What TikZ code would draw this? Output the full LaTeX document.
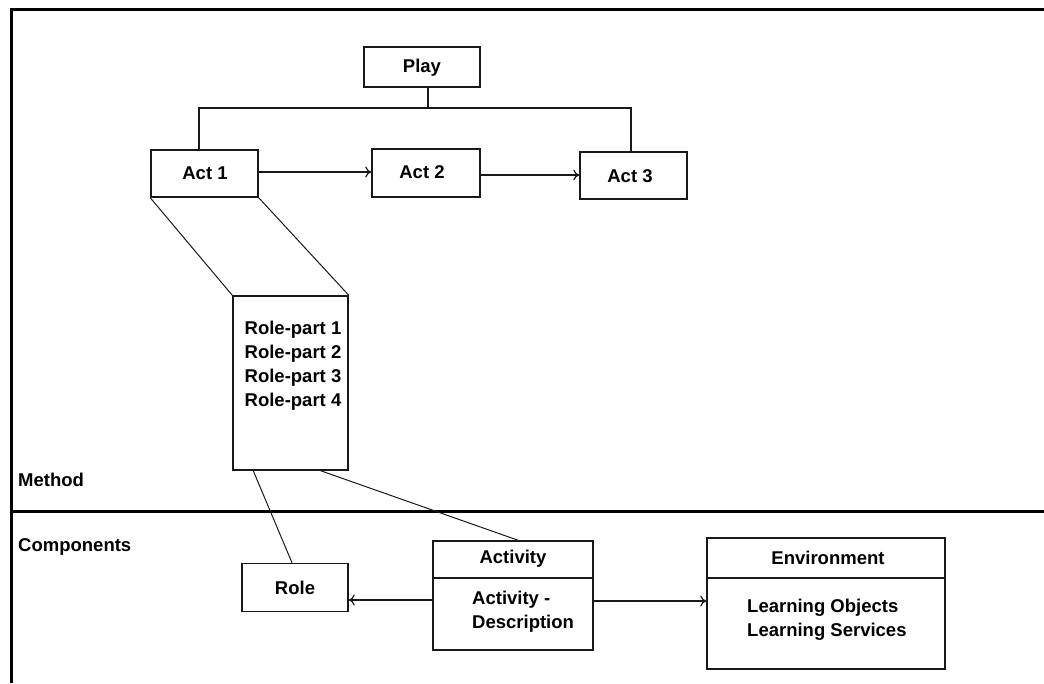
\documentclass[tikz,border=0pt]{standalone}
\usepackage{fontspec}
\setmainfont{Liberation Sans}
\usetikzlibrary{arrows.meta}
\begin{document}
\begin{tikzpicture}[x=1pt,y=-1pt,
  lbl/.style={font=\bfseries\fontsize{18.5}{24}\selectfont, inner sep=0pt},
  box/.style={draw=black!90, line width=1.5pt, fill=white, inner sep=0pt},
  conn/.style={draw=black!90, line width=1.4pt},
  thin/.style={draw=black!90, line width=1pt},
  arr/.style={conn, -{To[length=6pt,width=11pt,line width=1.2pt]}},
  frame/.style={draw=black, line width=3pt}]
\useasboundingbox (0,0) rectangle (1044,683);
% frame
\draw[frame] (11,683) -- (11,9) -- (1044,9);
\draw[frame] (11,511) -- (1044,511);
% method boxes
\node[box, minimum width=116pt, minimum height=40pt] (play) at (422,67) {};
\node[lbl] (playt) at (422,68) {Play};
\node[box, minimum width=107pt, minimum height=47pt] (act1) at (204.5,173.5) {};
\node[lbl] (act1t) at (205,173) {Act 1};
\node[box, minimum width=108pt, minimum height=48pt] (act2) at (426,173) {};
\node[lbl] (act2t) at (422,172) {Act 2};
\node[box, minimum width=107pt, minimum height=47pt] (act3) at (633.5,175.5) {};
\node[lbl] (act3t) at (630,176) {Act 3};
\node[box, minimum width=115pt, minimum height=174pt] (rolebox) at (290.5,383) {};
\node[lbl, align=left] (rolet) at (293,366) {Role-part 1\\Role-part 2\\Role-part 3\\Role-part 4};
\node[lbl, anchor=west] (method) at (18,480) {Method};
\node[lbl, anchor=west] (components) at (18,547) {Components};
% components
\node[box, minimum width=106pt, minimum height=48pt] (role) at (295,587.5) {};
\node[lbl] (rolelbl) at (295,588) {Role};
\node[box, minimum width=160pt, minimum height=109pt] (activity) at (513,595.5) {};
\node[lbl] (activityt) at (513,559) {Activity};
\node[lbl, align=left, anchor=west] (activityb) at (472,611.5) {Activity -\\Description};
\node[box, minimum width=238pt, minimum height=131pt] (env) at (826,603.5) {};
\node[lbl] (envt) at (828,558) {Environment};
\node[lbl, align=left, anchor=west] (envb) at (747,619.5) {Learning Objects\\Learning Services};
\draw[conn] (activity.west |- 0,578) -- (activity.east |- 0,578);
\draw[conn] (env.west |- 0,578) -- (env.east |- 0,578);
% bracket
\coordinate (b1) at (199,108);
\coordinate (b2) at (428,108);
\coordinate (b3) at (631,108);
\draw[conn] (b1 |- act1.north) -- (b1) -- (b3) -- (b3 |- act3.north);
\draw[conn] (b2 |- play.south) -- (b2);
% arrows
\draw[arr] (act1.east |- 0,172) -- (act2.west |- 0,172);
\draw[arr] (act2.east |- 0,175) -- (act3.west |- 0,175);
\draw[arr] (activity.west |- 0,600) -- (role.east |- 0,600);
\draw[arr] (activity.east |- 0,601) -- (env.west |- 0,601);
% zoom lines
\draw[thin] (act1.south west) -- (rolebox.north west);
\draw[thin] (act1.south east) -- (rolebox.north east);
\draw[thin] ([xshift=21pt]rolebox.south west) -- ([xshift=-3pt]role.north);
\draw[thin] ([xshift=-28pt]rolebox.south east) -- ([xshift=5pt]activity.north);
\end{tikzpicture}
\end{document}
